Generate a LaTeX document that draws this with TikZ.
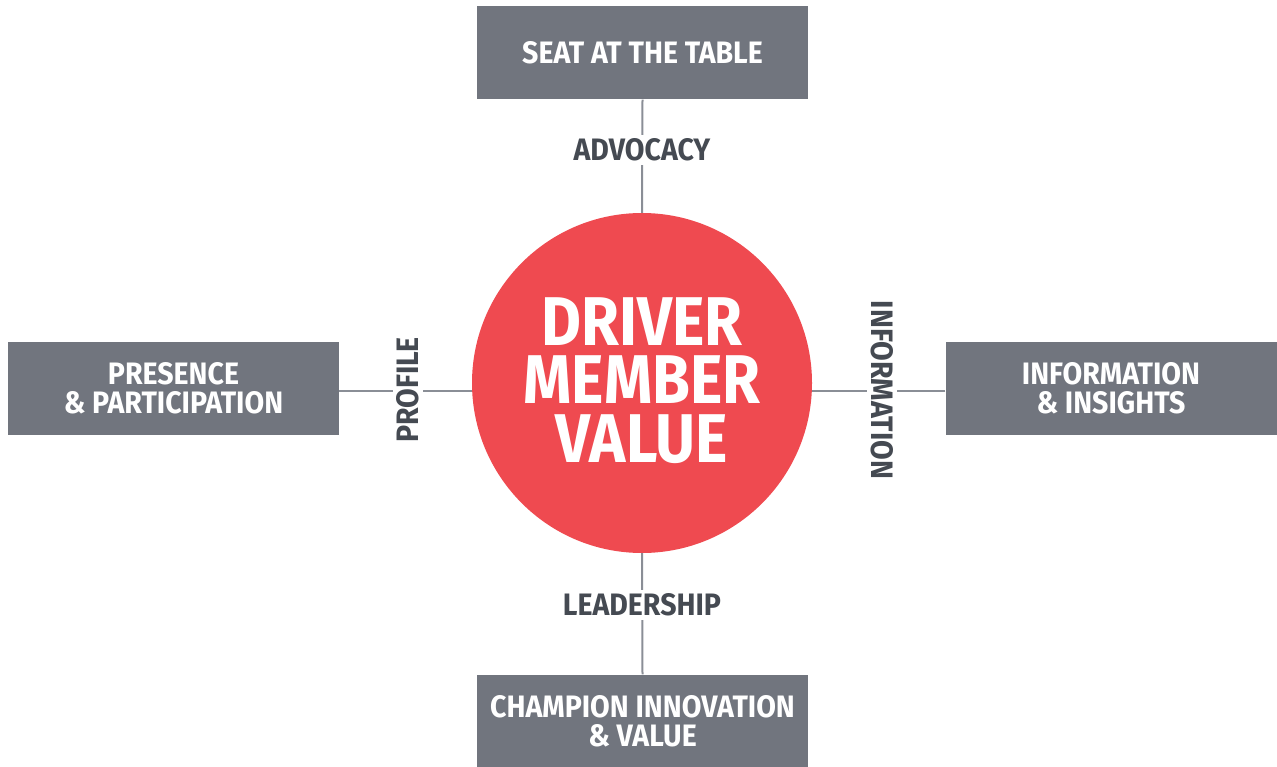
\documentclass[tikz,border=0pt]{standalone}
\usepackage{fontspec}
\setmainfont{Fira Sans}[BoldFont={Fira Sans Bold},FakeStretch=0.92]
\newfontfamily\circfont{Fira Sans Bold}[FakeStretch=0.89]
\definecolor{boxgray}{HTML}{71757E}
\definecolor{redc}{HTML}{EF4A50}
\definecolor{labc}{HTML}{454A52}
\definecolor{linec}{HTML}{8A8E96}
\begin{document}
\begin{tikzpicture}[x=1pt,y=-1pt,
  box/.style={fill=boxgray,text=white,minimum width=331pt,minimum height=93pt,inner sep=0pt,align=center,font=\bfseries\fontsize{31}{29}\selectfont},
  lab/.style={fill=white,text=labc,inner sep=4pt,font=\bfseries\fontsize{31}{29}\selectfont},
  ctext/.style={text=white,anchor=base,inner sep=0pt,text height=47pt,text depth=0pt,font=\circfont\fontsize{69}{57}\selectfont},
  conn/.style={draw=linec,line width=2pt}]
\useasboundingbox (0,0) rectangle (1277,767);
\node[circle,fill=redc,minimum size=340pt,inner sep=0pt] (c) at (642,383) {};
\node[ctext] (ct1) at (642,345) {DRIVER};
\node[ctext] (ct2) at (642,403) {MEMBER};
\node[ctext] (ct3) at (642,462) {VALUE};
\node[box] (top) at (642.5,53) {SEAT AT THE TABLE};
\node[box] (left) at (173.5,388.5) {PRESENCE\\\& PARTICIPATION};
\node[box] (right) at (1111,388.5) {INFORMATION\\\& INSIGHTS};
\node[box,text depth=-5pt] (bot) at (642.5,721) {CHAMPION INNOVATION\\\& VALUE};
\coordinate (lc) at ([yshift=-2pt]left.east);
\coordinate (rc) at ([yshift=-2pt]right.west);
\draw[conn] (top.south) -- (c.north);
\draw[conn] (bot.north) -- (c.south);
\draw[conn] (lc) -- (lc -| c.west);
\draw[conn] (rc) -- (rc -| c.east);
\node[lab] (adv) at (642,150) {ADVOCACY};
\node[lab] (lead) at (642,605) {LEADERSHIP};
\node[lab,rotate=90] (prof) at (408,390) {PROFILE};
\node[lab,rotate=-90] (info) at (882,390) {INFORMATION};
\end{tikzpicture}
\end{document}
